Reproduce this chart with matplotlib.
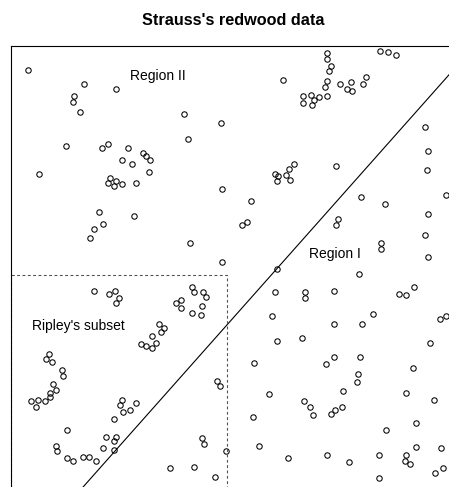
import numpy as np
import matplotlib
matplotlib.use("Agg")
import matplotlib.pyplot as plt

plt.rcParams['font.family'] = ['Liberation Sans', 'DejaVu Sans']

# Strauss's redwood data, full window rescaled to the unit square
x = np.array([
    0.039, 0.163, 0.141, 0.139, 0.155, 0.237, 0.389, 0.473, 0.398, 0.123,
    0.205, 0.219, 0.264, 0.296, 0.303, 0.313, 0.250, 0.273, 0.311, 0.063,
    0.222, 0.218, 0.235, 0.231, 0.249, 0.281, 0.475, 0.198, 0.206, 0.186,
    0.178, 0.277, 0.403, 0.475,
    0.711, 0.711, 0.718, 0.715, 0.711, 0.706, 0.711, 0.693, 0.681, 0.674,
    0.656, 0.657, 0.677, 0.612, 0.740, 0.754, 0.765, 0.767, 0.792, 0.798,
    0.830, 0.847, 0.866, 0.930, 0.938, 0.934, 0.978, 0.730, 0.637, 0.625,
    0.618, 0.627, 0.593, 0.601, 0.597, 0.539, 0.531, 0.520, 0.786, 0.841,
    0.734, 0.730, 0.938, 0.930, 0.831, 0.832, 0.938,
    0.187, 0.220, 0.234, 0.243, 0.237, 0.370, 0.383, 0.383, 0.407, 0.411,
    0.431, 0.438, 0.429, 0.407, 0.427, 0.332, 0.343, 0.336, 0.317, 0.326,
    0.316, 0.303, 0.292, 0.085, 0.079, 0.093, 0.115, 0.116, 0.094, 0.100,
    0.088, 0.088, 0.076, 0.056, 0.044, 0.060, 0.463, 0.470, 0.484, 0.249,
    0.244, 0.252, 0.268, 0.281, 0.231, 0.126, 0.214, 0.237, 0.231, 0.207,
    0.231, 0.102, 0.103, 0.126, 0.139, 0.161, 0.175, 0.191, 0.429, 0.434,
    0.357, 0.411, 0.459,
    0.597, 0.782, 0.594, 0.660, 0.661, 0.725, 0.873, 0.888, 0.906, 0.586,
    0.725, 0.788, 0.813, 0.965, 0.978, 0.597, 0.653, 0.941, 0.545, 0.725,
    0.708, 0.784, 0.779, 0.777, 0.903, 0.579, 0.658, 0.673, 0.679, 0.720,
    0.729, 0.744, 0.747, 0.888, 0.951, 0.544, 0.843, 0.910, 0.558, 0.623,
    0.710, 0.760, 0.827, 0.888, 0.886, 0.897, 0.909, 0.966, 0.827, 0.953,
    0.971,
])
y = np.array([
    0.946, 0.914, 0.888, 0.875, 0.851, 0.903, 0.847, 0.827, 0.792, 0.775,
    0.771, 0.779, 0.770, 0.760, 0.753, 0.744, 0.744, 0.735, 0.717, 0.713,
    0.703, 0.692, 0.697, 0.685, 0.691, 0.692, 0.679, 0.626, 0.601, 0.589,
    0.569, 0.617, 0.557, 0.515,
    0.984, 0.971, 0.956, 0.943, 0.921, 0.908, 0.888, 0.885, 0.879, 0.891,
    0.888, 0.873, 0.867, 0.923, 0.914, 0.904, 0.918, 0.898, 0.914, 0.930,
    0.989, 0.987, 0.980, 0.818, 0.765, 0.722, 0.665, 0.731, 0.735, 0.723,
    0.709, 0.698, 0.713, 0.708, 0.696, 0.652, 0.604, 0.598, 0.661, 0.645,
    0.612, 0.598, 0.622, 0.575, 0.557, 0.544, 0.525,
    0.449, 0.443, 0.450, 0.434, 0.422, 0.422, 0.429, 0.411, 0.458, 0.448,
    0.448, 0.437, 0.415, 0.401, 0.396, 0.375, 0.367, 0.357, 0.348, 0.333,
    0.321, 0.325, 0.330, 0.307, 0.296, 0.291, 0.271, 0.258, 0.240, 0.227,
    0.220, 0.211, 0.202, 0.189, 0.202, 0.204, 0.247, 0.235, 0.091, 0.205,
    0.193, 0.177, 0.181, 0.198, 0.161, 0.137, 0.122, 0.122, 0.112, 0.097,
    0.093, 0.102, 0.090, 0.075, 0.067, 0.076, 0.076, 0.067, 0.118, 0.106,
    0.051, 0.055, 0.031,
    0.499, 0.488, 0.448, 0.447, 0.434, 0.450, 0.443, 0.440, 0.459, 0.393,
    0.375, 0.375, 0.398, 0.387, 0.393, 0.338, 0.343, 0.332, 0.288, 0.301,
    0.285, 0.301, 0.264, 0.246, 0.277, 0.218, 0.202, 0.189, 0.170, 0.174,
    0.183, 0.189, 0.225, 0.220, 0.205, 0.166, 0.138, 0.152, 0.102, 0.075,
    0.080, 0.066, 0.082, 0.080, 0.067, 0.060, 0.100, 0.097, 0.029, 0.041,
    0.052,
])

# dividing line between Region I and Region II
line_x = [0.154, 1.0]
line_y = [0.0, 0.953]

# Ripley's subset rectangle
ripley_x = [0.0, 0.485]
ripley_y = [0.0, 0.485]

W, H = 449, 487
fig = plt.figure(figsize=(W / 100, H / 100), dpi=100)
# frame: left 11px, top 46px, side 445px (partly outside the picture)
ax = fig.add_axes([11 / W, (H - 491) / H, 445 / W, 445 / H])
ax.set_xlim(0, 1)
ax.set_ylim(0, 1)
ax.set_xticks([])
ax.set_yticks([])
for s in ax.spines.values():
    s.set_linewidth(0.8)
    s.set_color('black')

ax.plot(x, y, 'o', mfc='none', mec='black', ms=3.9, mew=0.75)
ax.plot(line_x, line_y, color='black', lw=0.8)

rx0, rx1 = ripley_x
ry0, ry1 = ripley_y
ax.plot([rx0, rx0, rx1, rx1], [ry0, ry1, ry1, ry0], color='#555555', lw=0.8,
        linestyle=(0, (2.6, 2.2)))

ax.text(0.329, 0.933, 'Region II', ha='center', va='center', fontsize=10)
ax.text(0.729, 0.533, 'Region I', ha='center', va='center', fontsize=10)
ax.text(0.151, 0.370, "Ripley's subset", ha='center', va='center', fontsize=10)

fig.text(233 / W, 1 - 25 / H, "Strauss's redwood data", ha='center', va='baseline',
         fontsize=11.7, fontweight='bold')

fig.savefig('out.png', dpi=100)
